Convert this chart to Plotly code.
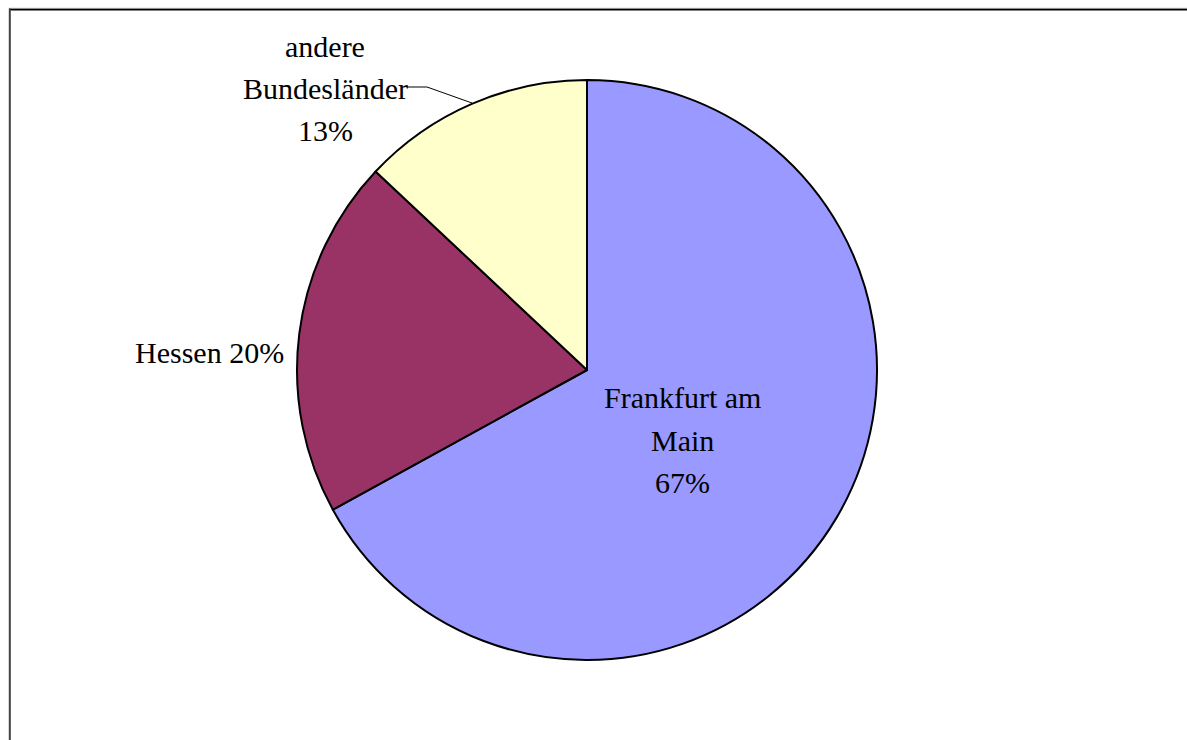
import plotly.graph_objects as go

# Herkunft der Studierenden (Anteile in Prozent)
regionen = ["Frankfurt am Main", "Hessen", "andere Bundesländer"]
anteile = [67, 20, 13]
farben = ["#9999FF", "#993366", "#FFFFCC"]

# Beschriftungszeilen je Segment
zeilen = [["Frankfurt am", "Main"], ["Hessen"], ["andere", "Bundesländer"]]

W, H = 1187, 740
FONT = "Liberation Serif, Times New Roman, serif"
FS = 30
LINE = 42


def px(x):
    return x / W


def py(y):
    return 1 - y / H


fig = go.Figure(
    go.Pie(
        labels=regionen,
        values=anteile,
        sort=False,
        direction="clockwise",
        rotation=0,
        marker=dict(colors=farben, line=dict(color="black", width=2)),
        textinfo="none",
        hoverinfo="label+percent",
        domain=dict(x=[px(297), px(877)], y=[py(660), py(80)]),
        showlegend=False,
    )
)

summe = sum(anteile)
prozent = [f"{round(100 * v / summe)}%" for v in anteile]

annotations = []


def beschriften(lines, cx, cy_first):
    for i, t in enumerate(lines):
        annotations.append(
            dict(
                x=px(cx), y=py(cy_first + i * LINE), xref="paper", yref="paper",
                text=t, showarrow=False, xanchor="center", yanchor="middle",
                font=dict(family=FONT, size=FS, color="black"),
            )
        )


# Frankfurt am Main – innerhalb des Segments
beschriften(zeilen[0] + [prozent[0]], 682, 398)
# Hessen – links neben dem Segment
beschriften([f"{zeilen[1][0]} {prozent[1]}"], 209, 352)
# andere Bundesländer – oberhalb mit Führungslinie
beschriften(zeilen[2] + [prozent[2]], 325, 46)

shapes = [
    # Führungslinie zum Segment "andere Bundesländer"
    dict(type="path", xref="paper", yref="paper",
         path=f"M {px(407)} {py(87)} L {px(427)} {py(87)} L {px(472)} {py(103)}",
         line=dict(color="black", width=1)),
    # Diagrammrahmen (oben und links)
    dict(type="line", xref="paper", yref="paper",
         x0=px(9), x1=1.0, y0=py(8.3), y1=py(8.3),
         line=dict(color="#b0b0b0", width=1)),
    dict(type="line", xref="paper", yref="paper",
         x0=px(9), x1=1.0, y0=py(9.6), y1=py(9.6),
         line=dict(color="black", width=1.6)),
    dict(type="line", xref="paper", yref="paper",
         x0=px(9.8), x1=px(9.8), y0=py(8.5), y1=0,
         line=dict(color="#404040", width=2)),
]

fig.update_layout(
    width=W, height=H,
    margin=dict(l=0, r=0, t=0, b=0),
    paper_bgcolor="white", plot_bgcolor="white",
    annotations=annotations, shapes=shapes,
)

fig.write_html("out.html")
